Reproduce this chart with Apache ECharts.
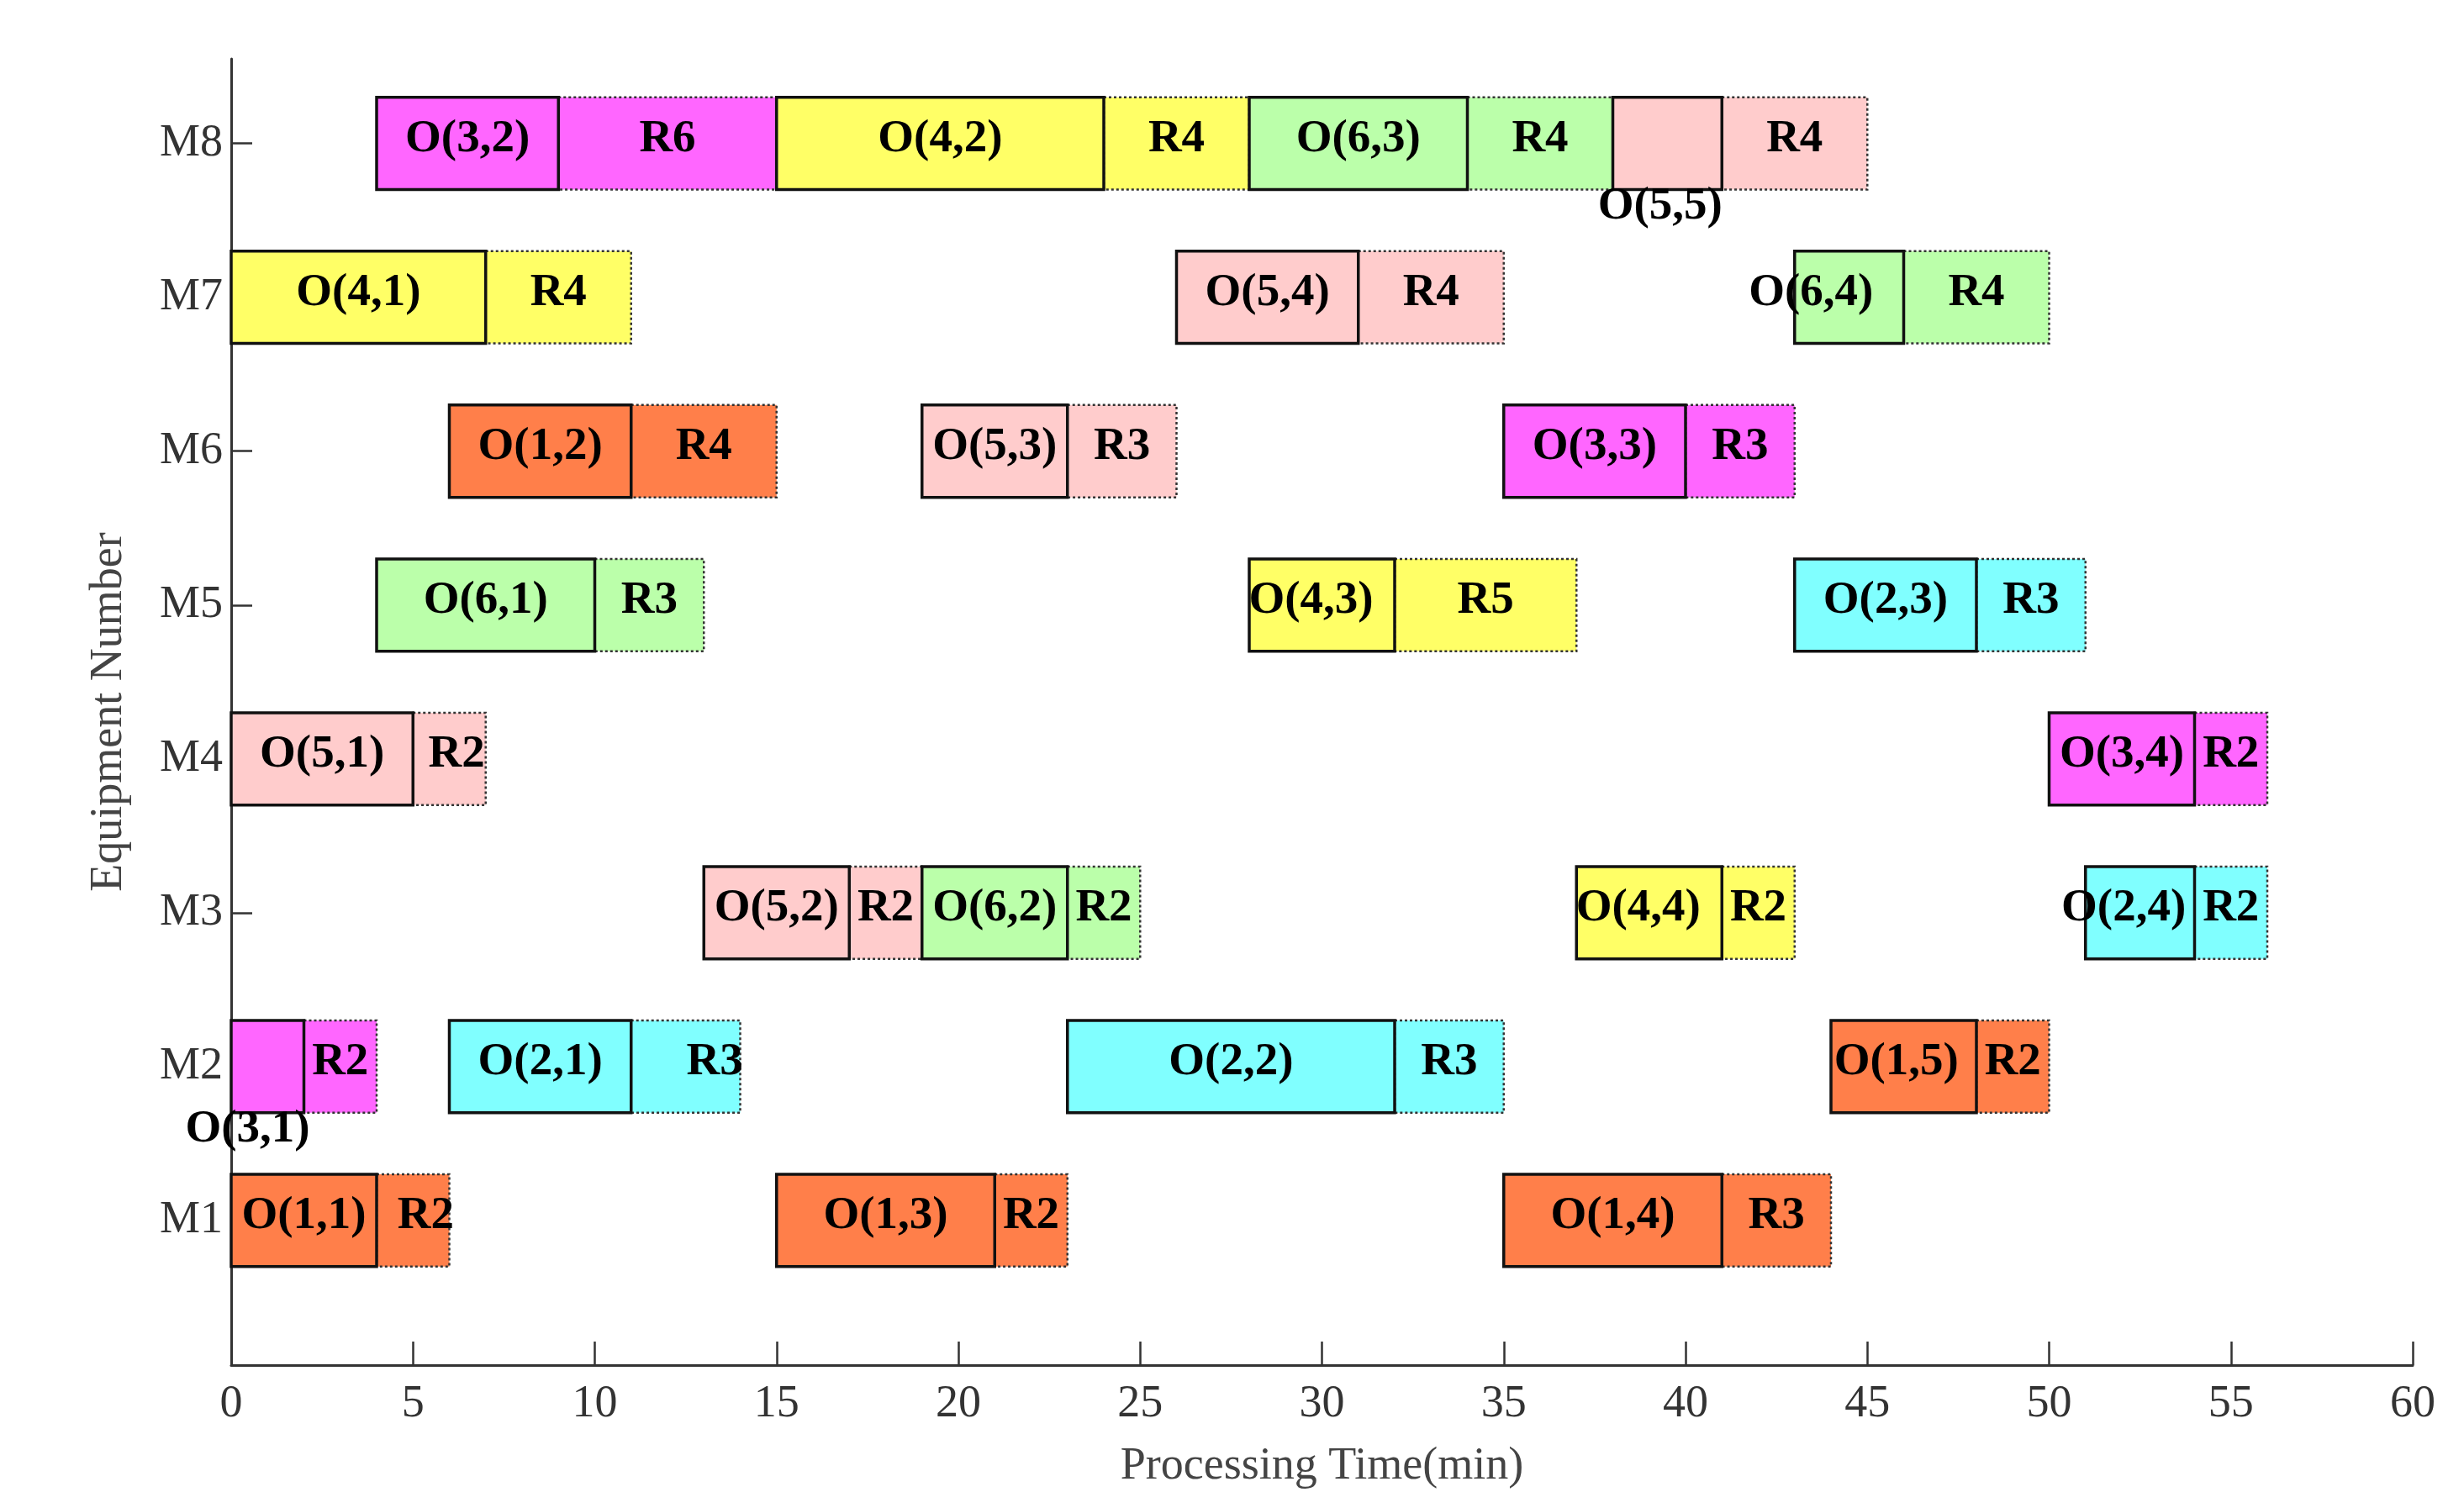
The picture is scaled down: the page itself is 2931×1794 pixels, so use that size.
<!DOCTYPE html>
<html><head><meta charset="utf-8">
<script src="https://cdn.jsdelivr.net/npm/echarts@6/dist/echarts.min.js"></script>
<style>html,body{margin:0;padding:0;background:#fff}#c{width:2931px;height:1794px}</style>
</head><body><div id="c"></div><script>
// ---- data ----
const machines = ['M1','M2','M3','M4','M5','M6','M7','M8'];
const machineTicks = [1,2,3,4,5,6,7,8];
const xTickStep = 5;
const xMax = 60;
// one entry per scheduled operation
const taskMachine = [8,8,8,8, 7,7,7, 6,6,6, 5,5,5, 4,4, 3,3,3,3, 2,2,2,2, 1,1,1];
const taskJob     = [3,4,6,5, 4,5,6, 1,5,3, 6,4,2, 5,3, 5,6,4,2, 3,2,2,1, 1,1,1];
const taskOp      = [2,2,3,5, 1,4,4, 2,3,3, 1,3,3, 1,4, 2,2,4,4, 1,1,2,5, 1,3,4];
const taskStart   = [4,15,28,38, 0,26,43, 6,19,35, 4,28,43, 0,50, 13,19,37,51, 0,6,23,44, 0,15,35];
const taskOpEnd   = [9,24,34,41, 7,31,46, 11,23,40, 10,32,48, 5,54, 17,23,41,54, 2,11,32,48, 4,21,41];
const taskResEnd  = [15,28,38,45, 11,35,50, 15,26,43, 13,37,51, 7,56, 19,25,43,56, 4,14,35,50, 6,23,44];
const taskRes     = ['R6','R4','R4','R4', 'R4','R4','R4', 'R4','R3','R3', 'R3','R5','R3', 'R2','R2', 'R2','R2','R2','R2', 'R2','R3','R3','R2', 'R2','R2','R3'];

// ---- style ----
const jobColors = ['#FF7F4A', '#80FFFF', '#FF66FF', '#FFFF66', '#FFCCCC', '#BBFFAA'];
const BAR_H = 0.6;
const FONT = '"Liberation Serif", "Times New Roman", serif';
// label placement tweaks (time units)
const opLabelTweak = {
  'O(3,1)': {dx: -0.55, below: true},
  'O(5,5)': {dx: -0.2, below: true},
  'O(6,4)': {dx: -1.05},
  'O(2,4)': {dx: -0.45},
  'O(4,3)': {dx: -0.3},
  'O(4,4)': {dx: -0.3},
  'O(1,5)': {dx: -0.2}
};
const resLabelTweak = {'O(2,1)': 0.8, 'O(1,1)': 0.35, 'O(5,1)': 0.2};

const data = taskMachine.map((m, i) => [m, taskStart[i], taskOpEnd[i], taskResEnd[i]]);

function renderItem(params, api) {
  const i = params.dataIndex;
  const m = api.value(0), s = api.value(1), oe = api.value(2), re = api.value(3);
  const h = api.size([0, BAR_H])[1];
  const p0 = api.coord([s, m]);
  const p1 = api.coord([oe, m]);
  const p2 = api.coord([re, m]);
  const top = p0[1] - h / 2;
  const color = jobColors[taskJob[i] - 1];
  const opName = 'O(' + taskJob[i] + ',' + taskOp[i] + ')';
  const tw = opLabelTweak[opName] || {};
  const opX = api.coord([(s + oe) / 2 + (tw.dx || 0), m])[0];
  const opY = tw.below ? top + h + 20 : p0[1] - 5;
  const rX = api.coord([(oe + re) / 2 + (resLabelTweak[opName] || 0), m])[0];
  const txt = (x, y, t) => ({
    type: 'text', z2: 100,
    style: {x: x, y: y, text: t, fill: '#000', font: 'bold 55px ' + FONT, align: 'center', verticalAlign: 'middle'}
  });
  return {
    type: 'group',
    children: [
      {type: 'rect', shape: {x: p1[0], y: top, width: p2[0] - p1[0], height: h},
        style: {fill: color, stroke: '#333', lineWidth: 2.5, lineDash: [3, 3]}},
      {type: 'rect', shape: {x: p0[0], y: top, width: p1[0] - p0[0], height: h},
        style: {fill: color, stroke: '#111', lineWidth: 3.5}},
      txt(opX, opY, opName),
      txt(rX, p0[1] - 5, taskRes[i])
    ]
  };
}

const chart = echarts.init(document.getElementById('c'), null, {renderer: 'canvas'});
chart.setOption({
  animation: false,
  backgroundColor: '#fff',
  grid: {left: 275, right: 61, top: 70, bottom: 170},
  xAxis: {
    type: 'value', min: 0, max: xMax, interval: xTickStep,
    axisLine: {show: true, lineStyle: {color: '#333', width: 3}},
    axisTick: {show: true, inside: true, length: 28, lineStyle: {color: '#333', width: 2.5}},
    axisLabel: {fontFamily: FONT, fontSize: 54, color: '#333', margin: 20},
    splitLine: {show: false},
    name: 'Processing Time(min)', nameLocation: 'middle', nameGap: 94,
    nameTextStyle: {fontFamily: FONT, fontSize: 54, color: '#444'}
  },
  yAxis: {
    type: 'value', min: 0.06, max: 8.55,
    axisLine: {show: true, lineStyle: {color: '#333', width: 3}},
    axisTick: {show: true, inside: true, length: 25, customValues: machineTicks, lineStyle: {color: '#333', width: 2.5}},
    axisLabel: {customValues: machineTicks, formatter: v => machines[Math.round(v) - 1] || '', fontFamily: FONT, fontSize: 54, color: '#333', margin: 10},
    splitLine: {show: false},
    name: 'Equipment Number', nameLocation: 'middle', nameGap: 118,
    nameTextStyle: {fontFamily: FONT, fontSize: 54, color: '#444'}
  },
  series: [{
    type: 'custom', renderItem: renderItem, data: data, clip: false,
    encode: {x: [1, 2, 3], y: 0}
  }]
});
</script></body></html>
